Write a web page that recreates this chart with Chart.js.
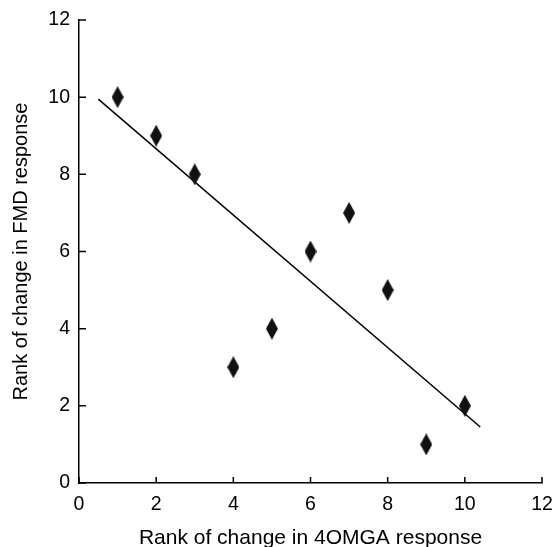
<!DOCTYPE html>
<html>
<head>
<meta charset="utf-8">
<script src="https://cdn.jsdelivr.net/npm/chart.js@4/dist/chart.umd.min.js"></script>
<style>
  html, body { margin: 0; padding: 0; background: #fff; }
  #wrap { width: 554px; height: 547px; }
</style>
</head>
<body>
<div id="wrap"><canvas id="rankChart"></canvas></div>
<script>
// ranks
const rank4omga = [1, 2, 3, 4, 5, 6, 7, 8, 9, 10];
const rankFmd = [10, 9, 8, 3, 4, 6, 7, 5, 1, 2];
// fitted line end points
const fitX = [0.5, 10.4];
const fitY = [9.95, 1.45];
const tickValues = [0, 2, 4, 6, 8, 10, 12];

const fontFace = 'Liberation Sans, Arial';

// tall diamond marker
function makeDiamond(w, h) {
    const c = document.createElement('canvas');
    c.width = w; c.height = h;
    const g = c.getContext('2d');
    g.fillStyle = '#111';
    g.beginPath();
    g.moveTo(w / 2, 0);
    g.lineTo(w, h / 2);
    g.lineTo(w / 2, h);
    g.lineTo(0, h / 2);
    g.closePath();
    g.fill();
    return c;
}
const diamond = makeDiamond(12, 22);

// tick marks drawn inside the plot
const innerTicks = {
    id: 'innerTicks',
    afterDraw(chart) {
        const ctx = chart.ctx;
        const xs = chart.scales.x, ys = chart.scales.y;
        ctx.save();
        ctx.strokeStyle = '#000';
        ctx.lineWidth = 1.5;
        ctx.beginPath();
        tickValues.forEach(v => {
            const px = xs.getPixelForValue(v);
            ctx.moveTo(px, ys.bottom);
            ctx.lineTo(px, ys.bottom - 6);
            const py = ys.getPixelForValue(v);
            ctx.moveTo(xs.left, py);
            ctx.lineTo(xs.left + 7, py);
        });
        ctx.stroke();
        ctx.restore();
    }
};

const ctx = document.getElementById('rankChart');
new Chart(ctx, {
    type: 'scatter',
    data: {
        datasets: [{
            label: 'ranks',
            data: rank4omga.map((x, i) => ({ x: x, y: rankFmd[i] })),
            pointStyle: diamond,
            pointRadius: 11,
            pointHoverRadius: 11
        }, {
            label: 'fit',
            type: 'line',
            data: fitX.map((x, i) => ({ x: x, y: fitY[i] })),
            borderColor: '#000',
            borderWidth: 1.5,
            pointRadius: 0,
            fill: false
        }]
    },
    options: {
        responsive: true,
        maintainAspectRatio: false,
        animation: false,
        layout: { padding: { top: 20, right: 10, left: 0, bottom: 0 } },
        plugins: { legend: { display: false }, tooltip: { enabled: false } },
        scales: {
            x: {
                type: 'linear',
                min: 0, max: 12,
                afterBuildTicks: s => { s.ticks = tickValues.map(v => ({ value: v })); },
                afterFit: s => { s.height = 64; s.paddingRight = 0; s.paddingLeft = 0; },
                grid: { display: false, drawTicks: false },
                border: { display: true, color: '#000', width: 1.5 },
                ticks: { color: '#000', padding: 10, font: { family: fontFace, size: 19.5 } },
                title: { display: true, text: 'Rank of change in 4OMGA response', color: '#000',
                         padding: { top: 0, bottom: -4 }, font: { family: fontFace, size: 21 } }
            },
            y: {
                type: 'linear',
                min: 0, max: 12,
                afterBuildTicks: s => { s.ticks = tickValues.map(v => ({ value: v })); },
                afterFit: s => { s.width = 79; s.paddingTop = 0; s.paddingBottom = 0; },
                grid: { display: false, drawTicks: false },
                border: { display: true, color: '#000', width: 1.5 },
                ticks: { color: '#000', padding: 9, font: { family: fontFace, size: 19.5 } },
                title: { display: true, text: 'Rank of change in FMD response', color: '#000',
                         padding: { top: 9, bottom: 0 }, font: { family: fontFace, size: 20 } }
            }
        }
    },
    plugins: [innerTicks]
});
</script>
</body>
</html>
